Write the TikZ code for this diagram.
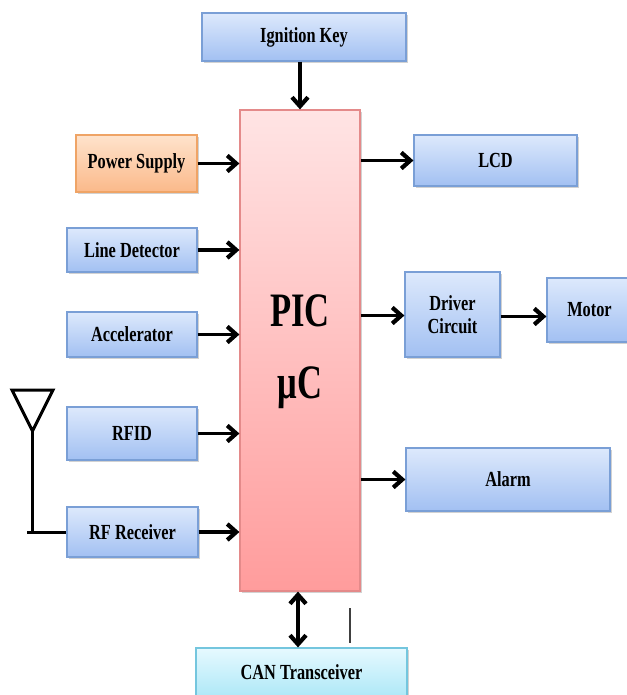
\documentclass[tikz,border=0pt]{standalone}
\usepackage{fontspec}
\setmainfont{Liberation Serif}
\newfontfamily\boxfont[FakeStretch=0.76]{Liberation Serif}
\newfontfamily\picfont[FakeStretch=0.72]{Liberation Serif}
\usetikzlibrary{arrows.meta,shadows}
\definecolor{bluetop}{HTML}{DDE9FC}
\definecolor{bluebot}{HTML}{A2C0F2}
\definecolor{blueline}{HTML}{7A9FD6}
\definecolor{orgtop}{HTML}{FEE3CC}
\definecolor{orgbot}{HTML}{FBB98A}
\definecolor{orgline}{HTML}{EFA466}
\definecolor{pinktop}{HTML}{FFE4E4}
\definecolor{pinkbot}{HTML}{FF9C9C}
\definecolor{pinkline}{HTML}{E48A8A}
\definecolor{cyantop}{HTML}{E6F9FF}
\definecolor{cyanbot}{HTML}{A8E6F6}
\definecolor{cyanline}{HTML}{74C6DE}
\tikzset{
  >={Straight Barb[length=9pt,width=16pt,line width=4.2pt]},
  blk/.style={draw=blueline, line width=1.2pt, top color=bluetop, bottom color=bluebot,
    inner sep=0pt, align=center, font=\boxfont\bfseries\fontsize{21.5}{23}\selectfont,
    drop shadow={shadow xshift=1.5pt, shadow yshift=-2pt, opacity=0.35, fill=gray}},
  orgblk/.style={blk, draw=orgline, top color=orgtop, bottom color=orgbot},
  pinkblk/.style={blk, draw=pinkline, top color=pinktop, bottom color=pinkbot},
  cyanblk/.style={blk, draw=cyanline, top color=cyantop, bottom color=cyanbot},
  conn/.style={line width=3.6pt, ->},
  wire/.style={line width=3pt},
}
\begin{document}
\begin{tikzpicture}[x=1pt,y=-1pt]
\useasboundingbox (0,0) rectangle (626,695);
\fill[white] (0,0) rectangle (626,695);
% nodes
\node[blk, minimum width=204pt, minimum height=48pt] (ign) at (304,37) {Ignition Key};
\node[pinkblk, minimum width=120pt, minimum height=481pt] (pic) at (300,350.5) {};
\node[font=\picfont\bfseries\fontsize{48}{70}\selectfont, align=center] (pictext) at (300,352) {PIC\\[2pt]μC};
\node[orgblk, minimum width=121pt, minimum height=57pt] (pow) at (136.5,163.5) {Power Supply};
\node[blk, minimum width=130pt, minimum height=44pt] (line) at (132,250) {Line Detector};
\node[blk, minimum width=130pt, minimum height=45pt] (acc) at (132,334.5) {Accelerator};
\node[blk, minimum width=130pt, minimum height=53pt] (rfid) at (132,433.5) {RFID};
\node[blk, minimum width=131pt, minimum height=50pt] (rfr) at (132.5,532) {RF Receiver};
\node[blk, minimum width=163pt, minimum height=51pt] (lcd) at (495.5,160.5) {LCD};
\node[blk, minimum width=95pt, minimum height=85pt] (drv) at (452.5,314.5) {Driver\\Circuit};
\node[blk, minimum width=85pt, minimum height=64pt] (mot) at (589.5,310) {Motor};
\node[blk, minimum width=204pt, minimum height=63pt] (alarm) at (508,479.5) {Alarm};
\node[cyanblk, minimum width=211pt, minimum height=54pt] (can) at (301.5,675) {};
\node[font=\boxfont\bfseries\fontsize{21.5}{23}\selectfont] (cantext) at (301.5,672) {CAN Transceiver};
% connectors
\draw[conn] (ign.south -| pic.north) -- (pic.north);
\draw[conn] (pow.east) -- (pow.east -| pic.west);
\draw[conn] (line.east) -- (line.east -| pic.west);
\draw[conn] (acc.east) -- (acc.east -| pic.west);
\draw[conn] (rfid.east) -- (rfid.east -| pic.west);
\draw[conn] (rfr.east) -- (rfr.east -| pic.west);
\draw[conn] (lcd.west -| pic.east) -- (lcd.west);
\draw[conn] ([yshift=-1pt]drv.west -| pic.east) -- ([yshift=-1pt]drv.west);
\draw[conn] ([yshift=-2pt]drv.east) -- ([yshift=-2pt]drv.east -| mot.west);
\draw[conn] (alarm.west -| pic.east) -- (alarm.west);
\draw[line width=3.6pt, <->] ([xshift=-2pt]pic.south) -- ([xshift=-2pt]pic.south |- can.north);
% stray short line
\coordinate (s1) at (350,608);
\coordinate (s2) at (350,643);
\draw[line width=2pt, black!75] (s1) -- (s2);
% antenna
\coordinate (a1) at (12,390);
\coordinate (a2) at (53,390);
\coordinate (a3) at (32.5,431);
\coordinate (a4) at (32.5,532);
\coordinate (a5) at (27,532);
\draw[wire, line join=miter] (a1) -- (a2) -- (a3) -- cycle;
\draw[wire] (a3) -- (a4);
\draw[wire] (a5) -- (rfr.west);
\end{tikzpicture}
\end{document}
